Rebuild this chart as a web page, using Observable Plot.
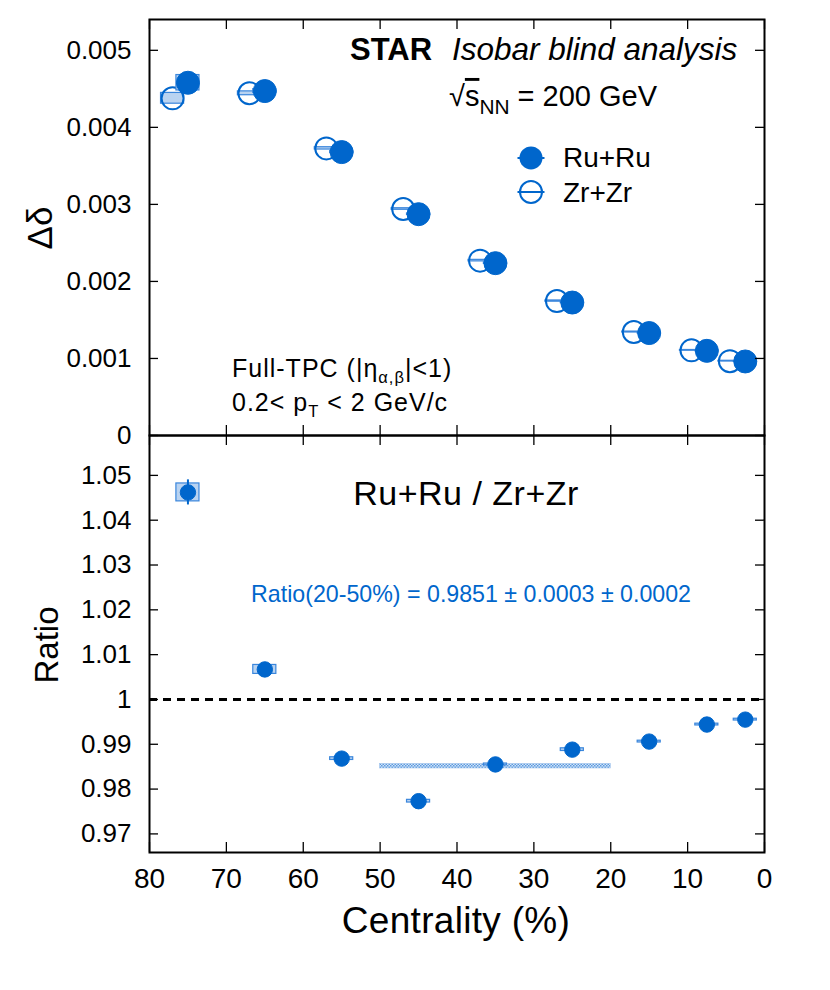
<!DOCTYPE html>
<html><head><meta charset="utf-8">
<script src="https://cdn.jsdelivr.net/npm/d3@7"></script>
<script src="https://cdn.jsdelivr.net/npm/@observablehq/plot@0.6"></script>
<style>
body{margin:0;background:#fff;}
#chart{position:relative;width:830px;height:990px;background:#fff;}
#chart svg{position:absolute;left:0;overflow:visible;}
</style></head><body><div id="chart"></div>
<script>
// ---------------- data ----------------
const centrality = [75, 65, 55, 45, 35, 25, 15, 7.5, 2.5];
const zrDisplayShift = 2; // Zr+Zr drawn shifted for visibility
const ruDelta = [0.004579, 0.004471, 0.003679, 0.002873, 0.002237, 0.001726, 0.001330, 0.001099, 0.000961];
const zrDelta = [0.004377, 0.004442, 0.003727, 0.002940, 0.002270, 0.001745, 0.001343, 0.001105, 0.000965];
const ruSys = [0.00010, 0.000025, 0.000015, 0.000010, 0.000010, 0.000008, 0.000006, 0.000005, 0.000005];
const zrSys = [0.00007, 0.000025, 0.000015, 0.000010, 0.000010, 0.000008, 0.000006, 0.000005, 0.000005];
const ratio = [1.0462, 1.0067, 0.9868, 0.9773, 0.9855, 0.9888, 0.9906, 0.9944, 0.9955];
const ratioStat = [0.0028, 0.0012, 0.0008, 0.0008, 0.0007, 0.0008, 0.0009, 0.0010, 0.0012];
const ratioSys = [0.0020, 0.0010, 0.0003, 0.0003, 0.0002, 0.0003, 0.0002, 0.0002, 0.0002];
const bandCentrality = [50, 20];
const bandValue = 0.9851, bandStat = 0.0003, bandSys = 0.0002;
const xTicks = [80, 70, 60, 50, 40, 30, 20, 10, 0];
const deltaTicks = [0, 0.001, 0.002, 0.003, 0.004, 0.005];
const ratioTicks = [0.97, 0.98, 0.99, 1, 1.01, 1.02, 1.03, 1.04, 1.05];
const legendLabels = ["Ru+Ru", "Zr+Zr"];

// ---------------- style ----------------
const FONT = '"Liberation Sans", Arial, Helvetica, sans-serif';
const BLUE = "#0066cc", BOXFILL = "#b9d3f1", BOXSTROKE = "#3a86dc";
const W = 830, mL = 149, mR = 66, innerW = W - mL - mR;
const topH = 435, topMT = 19, topInner = topH - topMT;
const botH = 555, botMB = 138, botInner = botH - botMB;
const halfBin = 1.5;
const fmt = d => d3.format("~g")(d);

const ru = centrality.map((c, i) => ({c, v: ruDelta[i], s: ruSys[i]}));
const zr = centrality.map((c, i) => ({c: c + zrDisplayShift, v: zrDelta[i], s: zrSys[i]}));
const rat = centrality.map((c, i) => ({c, v: ratio[i], e: ratioStat[i], s: ratioSys[i]}));
const band = [{c1: bandCentrality[0], c2: bandCentrality[1], v: bandValue, e: bandStat + bandSys}];

function richText(parts, {x, y, size, anchor = "start", fill = "black", rotate = 0, spacing = 0, subScale = 0.72, subShift = 0.28}) {
  const t = d3.create("svg:text")
    .attr("font-size", size).attr("fill", fill).attr("text-anchor", anchor)
    .attr("font-family", FONT);
  if (spacing) t.attr("letter-spacing", spacing);
  if (rotate) t.attr("transform", `translate(${x},${y}) rotate(${rotate})`);
  else t.attr("x", x).attr("y", y);
  let shift = 0;
  for (const p of parts) {
    const s = typeof p === "string" ? {text: p} : p;
    const ts = t.append("tspan").text(s.text);
    const target = s.sub ? size * subShift : 0;
    if (target !== shift) { ts.attr("dy", target - shift); shift = target; }
    if (s.sub) ts.attr("font-size", size * subScale);
    if (s.bold) ts.attr("font-weight", "bold");
    if (s.italic) ts.attr("font-style", "italic");
    if (s.overline) ts.attr("text-decoration", "overline");
    if (s.dx) ts.attr("dx", s.dx);
  }
  return t.node();
}

function frameTicks(yTicks, inner) {
  const st = {stroke: "black", strokeWidth: 1.3};
  return [
    Plot.tickY(yTicks, {y: d => d, insetRight: innerW - 9, ...st}),
    Plot.tickY(yTicks, {y: d => d, insetLeft: innerW - 9, ...st}),
    Plot.tickX(xTicks, {x: d => d, insetTop: inner - 10, ...st}),
    Plot.tickX(xTicks, {x: d => d, insetBottom: inner - 10, ...st}),
    Plot.frame({stroke: "black", strokeWidth: 2})
  ];
}

// ---------------- top panel ----------------
const topPlot = Plot.plot({
  width: W, height: topH, marginLeft: mL, marginRight: mR, marginTop: topMT, marginBottom: 0,
  style: {fontFamily: FONT, background: "transparent", overflow: "visible"},
  x: {domain: [80, 0], axis: null},
  y: {domain: [0, 0.0054]},
  marks: [
    Plot.axisY(deltaTicks, {anchor: "left", tickSize: 0, tickPadding: 18, fontSize: 26, tickFormat: fmt, label: null, fill: "black"}),
    Plot.rect(zr, {x1: d => d.c - halfBin, x2: d => d.c + halfBin, y1: d => d.v - d.s, y2: d => d.v + d.s, fill: BOXFILL, stroke: BOXSTROKE, strokeWidth: 1.2}),
    Plot.dot(zr, {x: "c", y: "v", r: 11, fill: "none", stroke: BLUE, strokeWidth: 2}),
    Plot.rect(ru, {x1: d => d.c - halfBin, x2: d => d.c + halfBin, y1: d => d.v - d.s, y2: d => d.v + d.s, fill: BOXFILL, stroke: BOXSTROKE, strokeWidth: 1.2}),
    Plot.dot(ru, {x: "c", y: "v", r: 11.5, fill: BLUE, stroke: BLUE, strokeWidth: 1}),
    // legend
    (index, {x, y}) => {
      const g = d3.create("svg:g");
      const mx = x(30.31), ys = [y(0.003596), y(0.003154)];
      legendLabels.forEach((lab, i) => {
        const cy = ys[i];
        if (i === 0) {
          g.append("line").attr("x1", mx - 13.5).attr("x2", mx + 13.5).attr("y1", cy).attr("y2", cy).attr("stroke", BLUE).attr("stroke-width", 2);
          g.append("circle").attr("cx", mx).attr("cy", cy).attr("r", 11.5).attr("fill", BLUE);
        } else {
          g.append("circle").attr("cx", mx).attr("cy", cy).attr("r", 11).attr("fill", "none").attr("stroke", BLUE).attr("stroke-width", 2);
          g.append("line").attr("x1", mx - 13.5).attr("x2", mx + 13.5).attr("y1", cy).attr("y2", cy).attr("stroke", BLUE).attr("stroke-width", 2);
        }
        g.node().appendChild(richText([lab], {x: x(26.15), y: cy + 9.5, size: 28}));
      });
      return g.node();
    },
    (index, {x, y}) => richText([{text: "STAR", bold: true}], {x: x(53.85), y: y(0.004868), size: 31}),
    (index, {x, y}) => richText([{text: "Isobar blind analysis", italic: true}], {x: x(40.59), y: y(0.004868), size: 31.5}),
    (index, {x, y}) => richText(["√", {text: "s", overline: true}, {text: "NN", sub: true}, " = 200 GeV"], {x: x(40.98), y: y(0.004271), size: 29}),
    (index, {x, y}) => richText(["Full-TPC (|η", {text: "α,β", sub: true}, "|<1)"], {x: x(69.2), y: y(0.000753), size: 25, spacing: 1, subScale: 0.66, subShift: 0.25}),
    (index, {x, y}) => richText(["0.2< p", {text: "T", sub: true}, " < 2 GeV/c"], {x: x(69.2), y: y(0.000312), size: 25, spacing: 1, subScale: 0.66, subShift: 0.25}),
    () => richText(["Δδ"], {x: 52, y: 228, size: 35, anchor: "middle", rotate: -90}),
    ...frameTicks(deltaTicks, topInner)
  ]
});

// ---------------- bottom panel ----------------
const botPlot = Plot.plot({
  width: W, height: botH, marginLeft: mL, marginRight: mR, marginTop: 0, marginBottom: botMB,
  style: {fontFamily: FONT, background: "transparent", overflow: "visible"},
  x: {domain: [80, 0]},
  y: {domain: [0.96585, 1.0589]},
  marks: [
    () => {
      const defs = d3.create("svg:defs");
      const p = defs.append("pattern").attr("id", "hatch").attr("width", 3).attr("height", 3).attr("patternUnits", "userSpaceOnUse");
      p.append("rect").attr("width", 3).attr("height", 3).attr("fill", "#d3e3f6");
      p.append("rect").attr("width", 1.5).attr("height", 1.5).attr("fill", "#5b9be0");
      p.append("rect").attr("x", 1.5).attr("y", 1.5).attr("width", 1.5).attr("height", 1.5).attr("fill", "#5b9be0");
      return defs.node();
    },
    Plot.axisY(ratioTicks, {anchor: "left", tickSize: 0, tickPadding: 18, fontSize: 26, tickFormat: fmt, label: null, fill: "black"}),
    Plot.axisX(xTicks, {anchor: "bottom", tickSize: 0, tickPadding: 16, fontSize: 28, tickFormat: d => String(d), label: null, fill: "black"}),
    Plot.ruleY([1], {stroke: "black", strokeWidth: 3, strokeDasharray: "8,6"}),
    Plot.rect(band, {x1: "c1", x2: "c2", y1: d => d.v - d.e, y2: d => d.v + d.e, fill: "url(#hatch)", stroke: "#9cc0ec", strokeWidth: 0.6}),
    Plot.rect(rat, {x1: d => d.c - halfBin, x2: d => d.c + halfBin, y1: d => d.v - d.s, y2: d => d.v + d.s, fill: BOXFILL, stroke: BOXSTROKE, strokeWidth: 1.2}),
    Plot.ruleX(rat, {x: "c", y1: d => d.v - d.e, y2: d => d.v + d.e, stroke: BLUE, strokeWidth: 2}),
    Plot.dot(rat, {x: "c", y: "v", r: 7.7, fill: BLUE, stroke: BLUE, strokeWidth: 1}),
    (index, {x, y}) => richText(["Ru+Ru / Zr+Zr"], {x: x(38.76), y: y(1.04328), size: 34, anchor: "middle", spacing: 0.5}),
    (index, {x, y}) => richText(["Ratio(20-50%) = 0.9851 ± 0.0003 ± 0.0002"], {x: x(38.11), y: y(1.0217), size: 23.2, anchor: "middle", fill: BLUE}),
    () => richText(["Ratio"], {x: 58, y: 210, size: 33, anchor: "middle", rotate: -90}),
    () => richText(["Centrality (%)"], {x: 456, y: 498, size: 37, anchor: "middle", spacing: 0.3}),
    ...frameTicks(ratioTicks, botInner)
  ]
});

const chart = document.getElementById("chart");
topPlot.style.top = "0px";
botPlot.style.top = topH + "px";
chart.appendChild(topPlot);
chart.appendChild(botPlot);
</script>
</body></html>
